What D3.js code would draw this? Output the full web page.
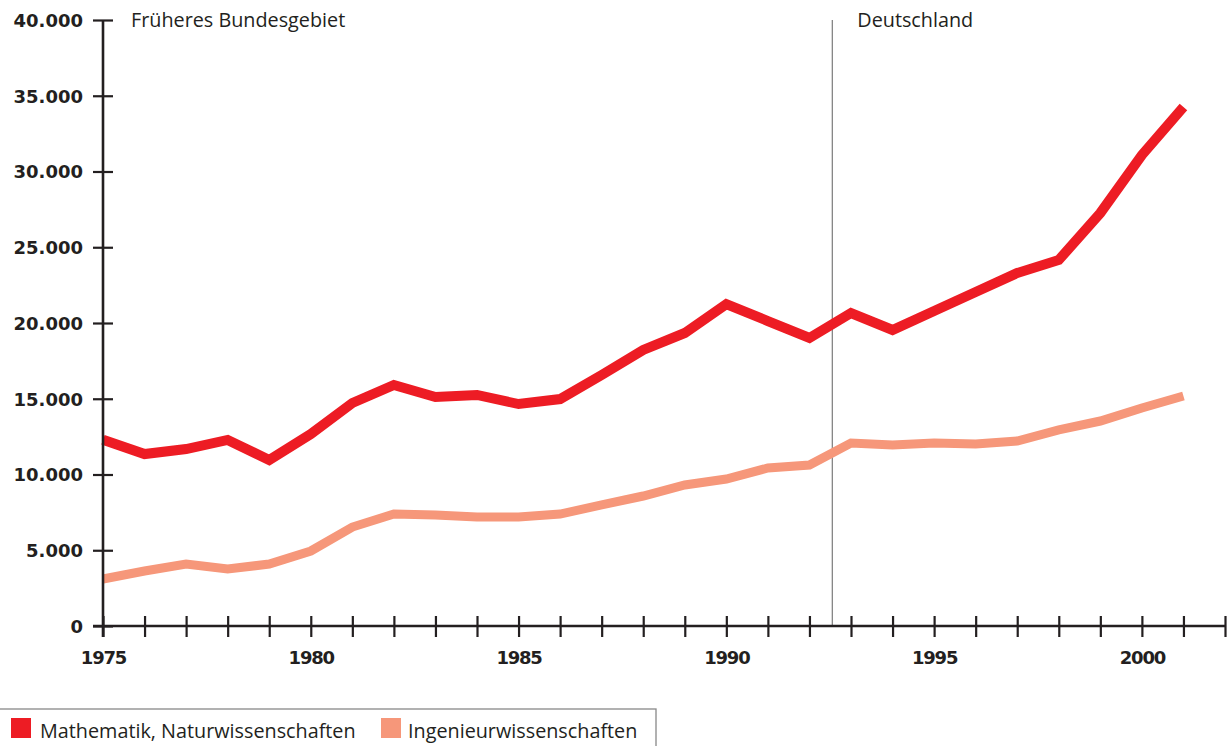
<!DOCTYPE html>
<html>
<head>
<meta charset="utf-8">
<script src="https://cdn.jsdelivr.net/npm/d3@7"></script>
<style>
    body { margin: 0; background: #fff; }
    svg { display: block; }
    .lbl { font-family: "DejaVu Sans", sans-serif; font-weight: bold; font-size: 18px; fill: #231f20; }
    .txt { font-family: "Open Sans", sans-serif; font-size: 19.8px; fill: #231f20; }
</style>
</head>
<body>
<div id="chart"></div>
<script>
    // Studienanfänger / Absolventen nach Fächergruppen, 1975-2001
    const years = d3.range(1975, 2002);
    const mathNat = [12300, 11350, 11680, 12280, 10960, 12670, 14720, 15910, 15120, 15250,
        14650, 14980, 16570, 18220, 19340, 21250, 20130, 19010, 20660, 19540,
        20790, 22050, 23300, 24160, 27260, 31090, 34260];
    const ingenieur = [3100, 3630, 4090, 3760, 4090, 4950, 6530, 7390, 7330, 7190,
        7190, 7390, 7990, 8580, 9310, 9700, 10430, 10630, 12080, 11950,
        12080, 12010, 12210, 12940, 13530, 14390, 15180];
    const yTicks = [0, 5000, 10000, 15000, 20000, 25000, 30000, 35000, 40000];
    const xLabels = [1975, 1980, 1985, 1990, 1995, 2000];
    const seriesNames = ['Mathematik, Naturwissenschaften', 'Ingenieurwissenschaften'];
    const colors = ['#ed1c24', '#f6977a'];
    const regions = ['Früheres Bundesgebiet', 'Deutschland'];
    const splitYear = 1992.55;

    (function () {
        let w = 1232, h = 746;
        let mLeft = 103, mRight = 1225, mTop = 20, mBottom = 626;

        let svg = d3.select('#chart').append('svg')
            .attr('width', w)
            .attr('height', h);

        let x = d3.scaleLinear().domain([1975, 2002]).range([mLeft, mRight]);
        let y = d3.scaleLinear().domain([0, 40000]).range([mBottom, mTop]);

        let fmt = d3.formatLocale({ decimal: ',', thousands: '.', grouping: [3], currency: ['', '€'] }).format(',');

        // split line
        svg.append('line')
            .attr('x1', x(splitYear)).attr('x2', x(splitYear))
            .attr('y1', y(40000)).attr('y2', y(0))
            .attr('stroke', '#7a7a7a')
            .attr('stroke-width', 1.2);

        // region labels
        svg.append('text').attr('class', 'txt')
            .attr('x', 131).attr('y', 27)
            .text(regions[0]);
        svg.append('text').attr('class', 'txt')
            .attr('x', x(splitYear) + 25).attr('y', 27)
            .text(regions[1]);

        // lines
        let line = d3.line()
            .x(function (d, i) { return x(years[i]); })
            .y(function (d) { return y(d); });

        [ingenieur, mathNat].forEach(function (data, idx) {
            svg.append('path')
                .datum(data)
                .attr('d', line)
                .attr('fill', 'none')
                .attr('stroke', colors[1 - idx])
                .attr('stroke-width', idx === 0 ? 9 : 10)
                .attr('stroke-linejoin', 'miter');
        });

        // y axis
        let yAxis = svg.append('g')
            .attr('transform', 'translate(' + mLeft + ',0)')
            .call(d3.axisLeft(y).tickValues(yTicks).tickSize(0).tickFormat(''));
        yAxis.select('.domain').attr('stroke', '#231f20').attr('stroke-width', 2.6)
            .attr('d', 'M0,' + (mBottom + 11) + 'V' + mTop);
        yAxis.selectAll('.tick line')
            .attr('x1', -10).attr('x2', 10)
            .attr('stroke', '#231f20').attr('stroke-width', 2.2);
        yAxis.selectAll('.tick').append('text')
            .attr('class', 'lbl')
            .attr('x', -20)
            .attr('dy', '0.36em')
            .attr('text-anchor', 'end')
            .text(function (d) { return fmt(d); });

        // x axis
        let xAxis = svg.append('g')
            .attr('transform', 'translate(0,' + mBottom + ')')
            .call(d3.axisBottom(x).tickValues(d3.range(1975, 2003)).tickSize(0).tickFormat(''));
        xAxis.select('.domain').attr('stroke', '#231f20').attr('stroke-width', 2.6)
            .attr('d', 'M' + (mLeft - 10) + ',0H' + mRight);
        xAxis.selectAll('.tick line')
            .attr('y1', -10).attr('y2', 11)
            .attr('stroke', '#231f20').attr('stroke-width', 2.2);
        xAxis.selectAll('.tick')
            .filter(function (d) { return xLabels.indexOf(d) >= 0; })
            .append('text')
            .attr('class', 'lbl')
            .attr('y', 38)
            .attr('text-anchor', 'middle')
            .style('letter-spacing', '-1.2px')
            .text(function (d) { return d; });

        // legend
        let legend = svg.append('g');
        legend.append('rect')
            .attr('x', -2).attr('y', 709)
            .attr('width', 658).attr('height', 60)
            .attr('fill', 'none')
            .attr('stroke', '#888')
            .attr('stroke-width', 1.3);
        let legendX = [11, 381];
        let textGap = [29, 27];
        seriesNames.forEach(function (name, idx) {
            legend.append('rect')
                .attr('x', legendX[idx]).attr('y', 718)
                .attr('width', 20).attr('height', 20)
                .attr('fill', colors[idx]);
            legend.append('text').attr('class', 'txt')
                .attr('x', legendX[idx] + textGap[idx]).attr('y', 738)
                .text(name);
        });
    })();
</script>
</body>
</html>
